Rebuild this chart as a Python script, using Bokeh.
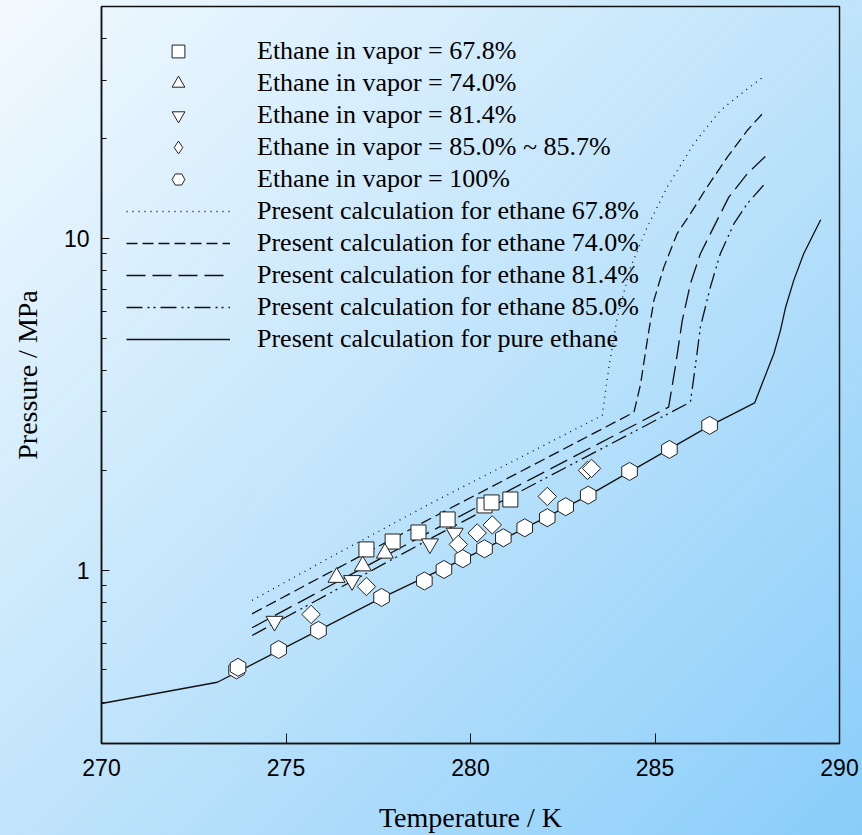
import math
from bokeh.plotting import figure
from bokeh.models import Range1d, FixedTicker, Legend, LegendItem
from bokeh.embed import file_html
from bokeh.resources import INLINE

# ---- experimental data (Temperature K, Pressure MPa) ----
T_678 = [277.18, 277.89, 278.59, 279.38, 280.38, 280.57, 281.08]
P_678 = [1.154, 1.219, 1.298, 1.421, 1.566, 1.599, 1.632]
T_740 = [276.37, 277.08, 277.68]
P_740 = [0.950, 1.029, 1.124]
T_814 = [274.69, 276.79, 278.90, 279.57]
P_814 = [0.701, 0.930, 1.200, 1.292]
T_850 = [275.68, 277.18, 279.67, 280.18, 280.59, 282.08, 283.17, 283.28]
P_850 = [0.735, 0.892, 1.195, 1.294, 1.368, 1.667, 1.997, 2.025]
T_100 = [273.66, 273.70, 274.80, 275.88, 277.59, 278.75, 279.28, 279.79, 280.38,
         280.89, 281.47, 282.08, 282.58, 283.19, 284.31, 285.39, 286.48]
P_100 = [0.500, 0.509, 0.576, 0.658, 0.827, 0.927, 1.004, 1.082, 1.159,
         1.251, 1.341, 1.438, 1.552, 1.682, 1.983, 2.31, 2.73]

# ---- calculated curves ----
Tc_678 = [274.08, 276.21, 278.92, 283.57, 283.75, 283.98, 284.34, 284.79, 285.33, 286.05, 286.77, 287.50, 287.99]
Pc_678 = [0.810, 1.094, 1.588, 2.925, 4.09, 5.79, 8.19, 10.81, 14.27, 19.28, 24.3, 28.2, 31.0]
Tc_740 = [274.08, 278.92, 284.43, 284.61, 284.79, 284.97, 285.24, 285.60, 285.96, 286.41, 286.96, 287.50, 287.99]
Pc_740 = [0.738, 1.43, 2.99, 3.64, 4.92, 6.50, 8.19, 10.33, 11.87, 14.27, 17.57, 21.15, 24.3]
Tc_814 = [274.08, 278.92, 285.37, 285.55, 285.74, 285.96, 286.23, 286.59, 287.00, 287.50, 287.99]
Pc_814 = [0.670, 1.307, 3.10, 4.09, 5.66, 7.30, 8.99, 10.81, 13.31, 15.66, 17.66]
Tc_850 = [274.08, 278.92, 285.96, 286.09, 286.23, 286.50, 286.77, 287.14, 287.50, 287.99]
Pc_850 = [0.635, 1.245, 3.21, 4.09, 5.40, 7.13, 8.99, 11.07, 12.72, 14.67]
Tc_100 = [270.0, 273.14, 277.59, 280.38, 283.20, 286.48, 287.70, 288.22, 288.40, 288.54, 288.76, 289.03, 289.30, 289.49]
Pc_100 = [0.396, 0.459, 0.824, 1.158, 1.679, 2.72, 3.19, 4.49, 5.28, 6.20, 7.47, 8.99, 10.33, 11.38]

x_ticks = [270, 275, 280, 285, 290]
y_ticks = [1, 10]
y_minor = [0.3, 0.4, 0.5, 0.6, 0.7, 0.8, 0.9, 2, 3, 4, 5, 6, 7, 8, 9, 20, 30, 40, 50]

labels_pts = ["Ethane in vapor = 67.8%", "Ethane in vapor = 74.0%", "Ethane in vapor = 81.4%",
              "Ethane in vapor = 85.0% ~ 85.7%", "Ethane in vapor = 100%"]
labels_calc = ["Present calculation for ethane 67.8%", "Present calculation for ethane 74.0%",
               "Present calculation for ethane 81.4%", "Present calculation for ethane 85.0%",
               "Present calculation for pure ethane"]

SERIF = "Liberation Serif"
SANS = "Liberation Sans"
INK = "#111111"

p = figure(x_range=Range1d(270, 290), y_range=Range1d(0.3, 50), y_axis_type="log",
           frame_width=738, frame_height=737,
           min_border_left=101, min_border_right=23, min_border_top=6, min_border_bottom=92,
           output_backend="svg", toolbar_location=None)

p.styles = {"background": "linear-gradient(135deg, #f2f9fe 0%, #c0e4fb 50%, #89cdfa 100%)"}
p.background_fill_alpha = 0
p.border_fill_alpha = 0
p.outline_line_color = INK
p.outline_line_width = 1.5
p.grid.visible = False

# axes
p.xaxis.ticker = FixedTicker(ticks=x_ticks)
p.yaxis.ticker = FixedTicker(ticks=y_ticks, minor_ticks=y_minor)
p.yaxis.major_label_overrides = {1: "1", 10: "10"}
for ax in (p.xaxis, p.yaxis):
    ax.axis_line_color = INK
    ax.axis_line_width = 1.5
    ax.major_tick_line_color = INK
    ax.minor_tick_line_color = INK
    ax.major_tick_out = 0
    ax.minor_tick_out = 0
    ax.major_label_text_font = SANS
    ax.major_label_text_font_size = "23px"
    ax.major_label_text_color = "black"
    ax.axis_label_text_font = SERIF
    ax.axis_label_text_font_size = "28px"
    ax.axis_label_text_font_style = "normal"
    ax.axis_label_text_color = "black"
p.xaxis.major_tick_in = 10
p.xaxis.minor_tick_line_color = None
p.yaxis.major_tick_in = 8
p.yaxis.minor_tick_in = 5
p.xaxis.major_label_standoff = 15
p.yaxis.major_label_standoff = 12
p.xaxis.axis_label = "Temperature / K"
p.yaxis.axis_label = "Pressure / MPa"
p.xaxis.axis_label_standoff = 23
p.yaxis.axis_label_standoff = 18

# calculated curves
lw = 1.3
l1 = p.line(Tc_678, Pc_678, line_color=INK, line_width=lw, line_dash="1 5")
l2 = p.line(Tc_740, Pc_740, line_color=INK, line_width=lw, line_dash="11 5")
l3 = p.line(Tc_814, Pc_814, line_color=INK, line_width=lw, line_dash="19 7")
l4 = p.line(Tc_850, Pc_850, line_color=INK, line_width=lw, line_dash="16 5 2 4 2 5")
l5 = p.line(Tc_100, Pc_100, line_color=INK, line_width=lw)

# experimental points
mk = dict(fill_color="white", line_color="#222222", line_width=1)
s1 = p.scatter(T_678, P_678, marker="square", size=15, **mk)
s2 = p.scatter(T_740, P_740, marker="triangle", size=17, **mk)
s3 = p.scatter(T_814, P_814, marker="inverted_triangle", size=17, **mk)
s4 = p.scatter(T_850, P_850, marker="square", size=13, angle=math.pi / 4, **mk)
s5 = p.scatter(T_100, P_100, marker="hex", size=18, angle=math.pi / 2, **mk)

# legend-only glyph for the diamond symbol (legend markers are drawn unrotated);
# it holds one undefined point, so nothing appears inside the plot
s4_leg = p.scatter([float("nan")], [float("nan")], marker="diamond", size=13, **mk)

items = [LegendItem(label=lab, renderers=[r]) for lab, r in zip(labels_pts, [s1, s2, s3, s4_leg, s5])]
items += [LegendItem(label=lab, renderers=[r]) for lab, r in zip(labels_calc, [l1, l2, l3, l4, l5])]

legend = Legend(items=items, location=(25, 388), orientation="vertical",
                glyph_width=104, glyph_height=32, label_height=32, spacing=0,
                label_standoff=27, padding=0, margin=0,
                background_fill_alpha=0, border_line_alpha=0,
                label_text_font=SERIF, label_text_font_size="26px", label_text_color="black")
p.add_layout(legend)

open("out.html", "w").write(file_html(p, INLINE))
